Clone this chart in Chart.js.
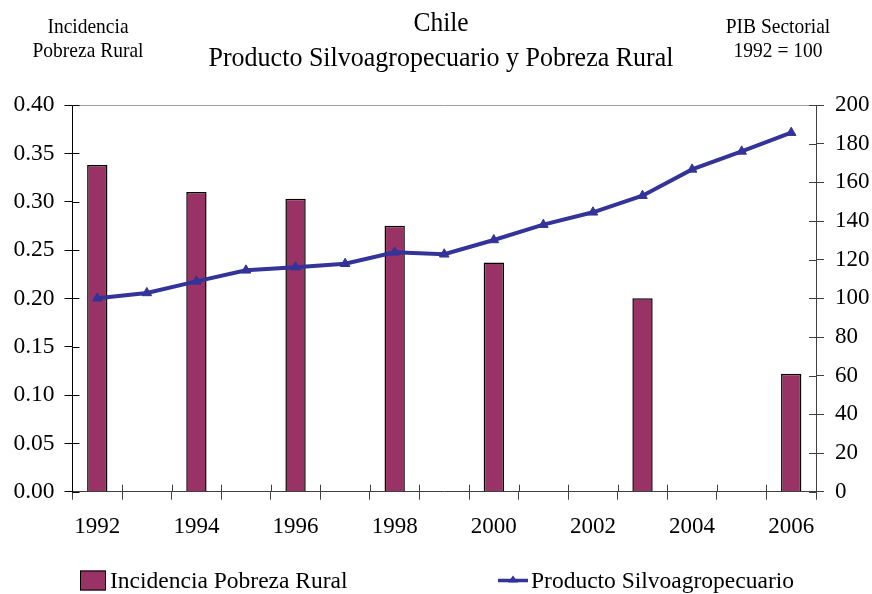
<!DOCTYPE html>
<html>
<head>
<meta charset="utf-8">
<script src="https://cdn.jsdelivr.net/npm/chart.js@4.4.1/dist/chart.umd.min.js"></script>
<style>
  html, body { margin: 0; padding: 0; background: #fff; }
  #wrap { position: relative; width: 872px; height: 594px; font-family: "Liberation Serif", "Times New Roman", serif; color: #000; }
  canvas { position: absolute; left: 0; top: 0; }
  .t { position: absolute; white-space: nowrap; transform: translate(-50%, -50%) scaleY(1.08); }
  .leg { position: absolute; white-space: nowrap; font-size: 23.5px; display: flex; align-items: center; transform: translateY(-50%); }
</style>
</head>
<body>
<div id="wrap">
  <canvas id="c" width="872" height="594"></canvas>
  <div class="t" style="left:88px; top:27px; font-size:19.5px;">Incidencia</div>
  <div class="t" style="left:88px; top:51px; font-size:19.5px;">Pobreza Rural</div>
  <div class="t" style="left:441px; top:22px; font-size:25.5px;">Chile</div>
  <div class="t" style="left:441px; top:57px; font-size:26px;">Producto Silvoagropecuario y Pobreza Rural</div>
  <div class="t" style="left:778px; top:27px; font-size:19.5px;">PIB Sectorial</div>
  <div class="t" style="left:778px; top:51px; font-size:19.5px;">1992 = 100</div>
  <div class="leg" style="left:80px; top:580px;">
    <span style="display:inline-block;width:24px;height:18px;background:#993366;border:1px solid #000;margin-right:4px;"></span>Incidencia Pobreza Rural
  </div>
  <div class="leg" style="left:497px; top:580px;">
    <svg width="32" height="20" style="margin-right:2px"><line x1="1" y1="10" x2="31" y2="10" stroke="#333399" stroke-width="3.5"/><polygon points="16,5 21,12 11,12" fill="#333399"/></svg>Producto Silvoagropecuario
  </div>
</div>
<script>
const years = ["1992","1993","1994","1995","1996","1997","1998","1999","2000","2001","2002","2003","2004","2005","2006"];
const tickLabels = ["1992","","1994","","1996","","1998","","2000","","2002","","2004","","2006"];
const pobrezaRural = [0.338, null, 0.310, null, 0.303, null, 0.275, null, 0.237, null, null, 0.200, null, null, 0.122];
const productoSilvo = [100, 102.8, 108.8, 114.5, 116.1, 117.9, 123.8, 122.8, 130.2, 138.1, 144.5, 153.1, 166.7, 176.0, 185.7];
const leftTicks = [0, 0.05, 0.10, 0.15, 0.20, 0.25, 0.30, 0.35, 0.40];
const rightTicks = [0, 20, 40, 60, 80, 100, 120, 140, 160, 180, 200];

const fam = "'Liberation Serif', 'Times New Roman', serif";

const extras = {
  id: 'extras',
  afterDraw(chart) {
    const ctx = chart.ctx;
    const a = chart.chartArea;
    ctx.save();
    ctx.strokeStyle = '#a0a0a0';
    ctx.lineWidth = 1;
    ctx.beginPath();
    ctx.moveTo(a.left, a.top + 0.5);
    ctx.lineTo(a.right, a.top + 0.5);
    ctx.stroke();
    const y = chart.scales.y, y1 = chart.scales.y1, x = chart.scales.x;
    ctx.strokeStyle = '#000';
    y.ticks.forEach(t => {
      const p = Math.round(y.getPixelForValue(t.value)) + 0.5;
      ctx.beginPath(); ctx.moveTo(a.left, p); ctx.lineTo(a.left + 7, p); ctx.stroke();
    });
    ctx.strokeStyle = '#404040';
    y1.ticks.forEach(t => {
      const p = Math.round(y1.getPixelForValue(t.value)) + 0.5;
      ctx.beginPath(); ctx.moveTo(a.right, p); ctx.lineTo(a.right - 7, p); ctx.stroke();
    });
    const n = years.length;
    for (let i = 1; i < n; i++) {
      let px = (x.getPixelForValue(i - 1) + x.getPixelForValue(i)) / 2;
      px = Math.round(px) + 0.5;
      ctx.beginPath(); ctx.moveTo(px, a.bottom); ctx.lineTo(px, a.bottom - 7); ctx.stroke();
    }
    ctx.restore();
  }
};

new Chart(document.getElementById('c'), {
  data: {
    labels: years,
    datasets: [
      {
        type: 'line',
        label: 'Producto Silvoagropecuario',
        data: productoSilvo,
        yAxisID: 'y1',
        borderColor: '#333399',
        backgroundColor: '#333399',
        borderWidth: 4,
        pointStyle: 'triangle',
        pointRadius: 5.5,
        pointBorderWidth: 1,
        tension: 0,
        order: 0
      },
      {
        type: 'bar',
        label: 'Incidencia Pobreza Rural',
        data: pobrezaRural,
        yAxisID: 'y',
        backgroundColor: '#993366',
        borderColor: '#000000',
        borderWidth: 1.5,
        barPercentage: 0.41,
        categoryPercentage: 1.0,
        order: 1
      }
    ]
  },
  options: {
    responsive: false,
    animation: false,
    devicePixelRatio: 1,
    layout: { padding: { top: 105, left: 0, right: 0, bottom: 0 } },
    plugins: { legend: { display: false }, tooltip: { enabled: false }, title: { display: false } },
    scales: {
      x: {
        type: 'category',
        offset: true,
        grid: { display: true, drawOnChartArea: false, offset: true, tickLength: 8, color: '#404040' },
        border: { display: true, color: '#404040', width: 1 },
        ticks: {
          autoSkip: false, maxRotation: 0, padding: 13, color: '#000', font: { family: fam, size: 23 },
          callback: (v, i) => tickLabels[i]
        },
        afterFit: s => { s.height = 102.3; }
      },
      y: {
        position: 'left',
        min: 0, max: 0.4,
        afterBuildTicks: s => { s.ticks = leftTicks.map(v => ({ value: v })); },
        grid: { display: true, drawOnChartArea: false, tickLength: 8, color: '#000' },
        border: { display: true, color: '#000', width: 1 },
        ticks: { color: '#000', font: { family: fam, size: 23.5 }, padding: 10, callback: v => Number(v).toFixed(2) },
        afterFit: s => { s.width = 72.5; }
      },
      y1: {
        position: 'right',
        min: 0, max: 200,
        afterBuildTicks: s => { s.ticks = rightTicks.map(v => ({ value: v })); },
        grid: { display: true, drawOnChartArea: false, tickLength: 8, color: '#404040' },
        border: { display: true, color: '#404040', width: 1 },
        ticks: { color: '#000', font: { family: fam, size: 23 }, padding: 11, callback: v => String(v) },
        afterFit: s => { s.width = 56; }
      }
    }
  },
  plugins: [extras]
});
</script>
</body>
</html>
